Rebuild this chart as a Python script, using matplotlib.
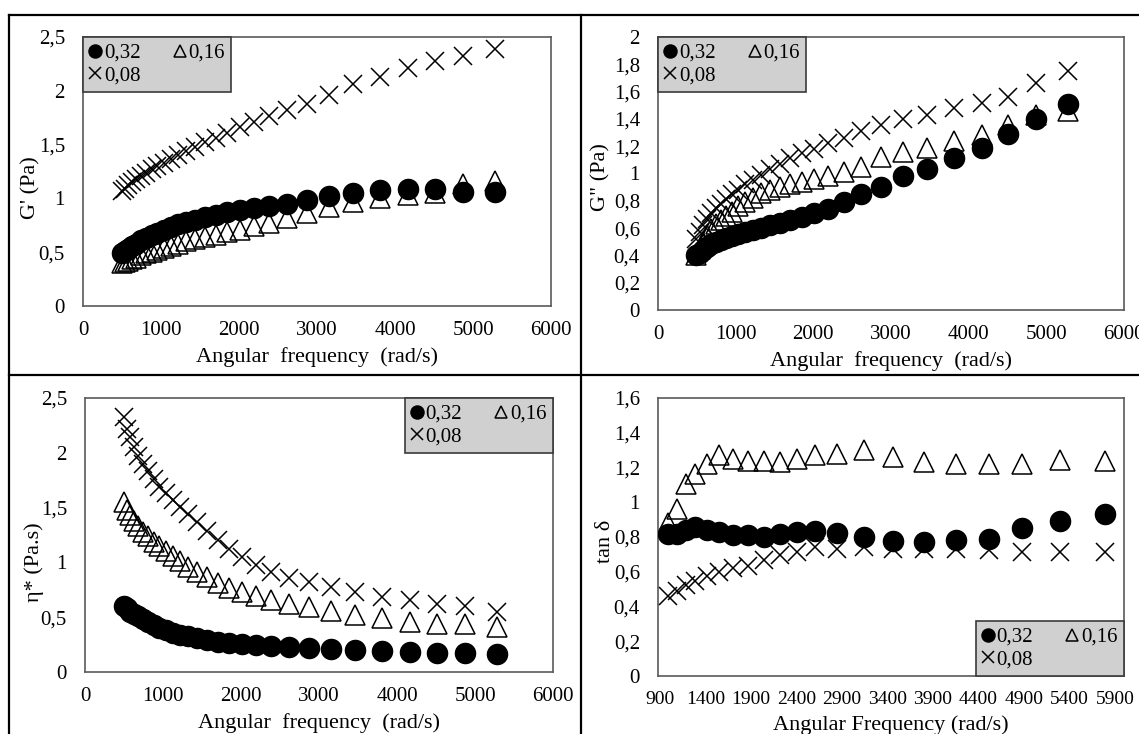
import matplotlib
matplotlib.use("Agg")
import matplotlib.pyplot as plt
from matplotlib.lines import Line2D
from matplotlib.ticker import FuncFormatter, MultipleLocator

plt.rcParams['font.family'] = ['Liberation Serif', 'DejaVu Serif']

# ---------------- data ----------------
freq = [495, 535, 580, 630, 685, 745, 810, 880, 955, 1035, 1125, 1220, 1325, 1440,
        1565, 1700, 1850, 2010, 2190, 2390, 2615, 2870, 3150, 3460, 3810, 4170,
        4510, 4870, 5280]

# G' (Pa)
gp_032 = [0.49, 0.51, 0.53, 0.56, 0.58, 0.61, 0.63, 0.66, 0.68, 0.71, 0.73, 0.76, 0.78, 0.80,
          0.83, 0.85, 0.87, 0.89, 0.91, 0.93, 0.95, 0.985, 1.02, 1.05, 1.08, 1.09, 1.09, 1.06, 1.06]
gp_016 = [0.40, 0.41, 0.42, 0.44, 0.45, 0.47, 0.49, 0.50, 0.52, 0.54, 0.56, 0.58, 0.60, 0.62,
          0.64, 0.66, 0.69, 0.71, 0.74, 0.77, 0.82, 0.86, 0.92, 0.97, 1.00, 1.03, 1.05, 1.13, 1.16]
gp_008 = [1.07, 1.09, 1.12, 1.15, 1.18, 1.21, 1.24, 1.27, 1.30, 1.33, 1.37, 1.40, 1.44, 1.48,
          1.52, 1.56, 1.61, 1.66, 1.71, 1.77, 1.82, 1.88, 1.96, 2.06, 2.13, 2.21, 2.28, 2.32, 2.39]

# G" (Pa)
gpp_032 = [0.40, 0.42, 0.44, 0.46, 0.48, 0.50, 0.51, 0.525, 0.54, 0.56, 0.57, 0.585, 0.60, 0.62,
           0.64, 0.66, 0.68, 0.71, 0.74, 0.79, 0.85, 0.90, 0.98, 1.03, 1.11, 1.19, 1.29, 1.40, 1.51]
gpp_016 = [0.40, 0.45, 0.50, 0.55, 0.59, 0.63, 0.66, 0.69, 0.72, 0.76, 0.79, 0.82, 0.855, 0.88,
           0.90, 0.92, 0.94, 0.96, 0.98, 1.01, 1.05, 1.12, 1.16, 1.19, 1.24, 1.28, 1.355, 1.43, 1.46]
gpp_008 = [0.52, 0.57, 0.62, 0.67, 0.71, 0.75, 0.78, 0.81, 0.85, 0.88, 0.92, 0.95, 0.99, 1.03,
           1.07, 1.11, 1.15, 1.18, 1.22, 1.26, 1.31, 1.355, 1.40, 1.43, 1.48, 1.52, 1.56, 1.665, 1.75]

# eta* (Pa.s)
eta_032 = [0.60, 0.58, 0.55, 0.53, 0.51, 0.48, 0.46, 0.43, 0.40, 0.38, 0.36, 0.34, 0.325, 0.31,
           0.29, 0.275, 0.265, 0.255, 0.245, 0.235, 0.228, 0.219, 0.213, 0.198, 0.192, 0.183,
           0.176, 0.176, 0.167]
eta_016 = [1.55, 1.48, 1.43, 1.38, 1.33, 1.28, 1.24, 1.19, 1.15, 1.10, 1.06, 1.01, 0.96, 0.91,
           0.87, 0.81, 0.77, 0.73, 0.69, 0.66, 0.625, 0.59, 0.56, 0.52, 0.49, 0.46, 0.44, 0.44, 0.41]
eta_008 = [2.33, 2.22, 2.14, 2.05, 1.97, 1.90, 1.83, 1.76, 1.69, 1.63, 1.57, 1.51, 1.44, 1.37,
           1.29, 1.20, 1.12, 1.05, 0.98, 0.91, 0.855, 0.82, 0.775, 0.73, 0.685, 0.655, 0.625, 0.60, 0.55]

# tan delta
freq_tan = [988, 1087, 1187, 1287, 1419, 1546, 1706, 1865, 2044, 2224, 2403, 2603, 2842, 3140,
            3460, 3799, 4158, 4516, 4875, 5294, 5795]
tan_032 = [0.82, 0.82, 0.84, 0.86, 0.84, 0.83, 0.81, 0.81, 0.80, 0.82, 0.828, 0.834, 0.825, 0.80,
           0.777, 0.771, 0.785, 0.79, 0.852, 0.892, 0.934]
tan_016 = [0.88, 0.96, 1.105, 1.16, 1.22, 1.27, 1.25, 1.235, 1.24, 1.23, 1.25, 1.27, 1.28, 1.30,
           1.26, 1.23, 1.22, 1.218, 1.22, 1.246, 1.24]
tan_008 = [0.46, 0.487, 0.525, 0.545, 0.574, 0.597, 0.62, 0.633, 0.67, 0.695, 0.714, 0.742, 0.733,
           0.742, 0.733, 0.733, 0.733, 0.727, 0.714, 0.714, 0.714]

tan_xticks = [900, 1400, 1900, 2400, 2900, 3400, 3900, 4400, 4900, 5400, 5900]
labels = ['0,32', '0,16', '0,08']

# ---------------- figure ----------------
W, H = 1139, 734
fig = plt.figure(figsize=(W / 100, H / 100), dpi=100)
FS = 15


def rect(l, t, r, b):
    return [l / W, 1 - b / H, (r - l) / W, (b - t) / H]


def comma(v, pos):
    s = ('%g' % round(v, 3))
    return s.replace('.', ',')


def panel(r, x, y032, y016, y008, xlim, xticks, ylim, ystep, ylabel, ylab_pos,
          xlabel, legend_loc, legend_anchor, xtick_fs=FS):
    ax = fig.add_axes(r)
    h016, = ax.plot(x, y016, linestyle='none', marker='^', ms=14, mfc='none', mec='black',
                    mew=1.1, zorder=2)
    h008, = ax.plot(x, y008, linestyle='none', marker='x', ms=13, mec='black', mew=1.1, zorder=3)
    h032, = ax.plot(x, y032, linestyle='none', marker='o', ms=14.5, mfc='black', mec='black',
                    zorder=4)
    ax.set_xlim(*xlim)
    ax.set_ylim(*ylim)
    if isinstance(xticks, (list, tuple)):
        ax.set_xticks(xticks)
    else:
        ax.xaxis.set_major_locator(MultipleLocator(xticks))
    ax.yaxis.set_major_locator(MultipleLocator(ystep))
    ax.yaxis.set_major_formatter(FuncFormatter(comma))
    ax.xaxis.set_major_formatter(FuncFormatter(comma))
    ax.tick_params(length=0, labelsize=FS)
    ax.tick_params(axis='x', pad=11, labelsize=xtick_fs)
    ax.tick_params(axis='y', pad=13)
    for s in ax.spines.values():
        s.set_color('#5a5a5a')
        s.set_linewidth(1.2)
    ax.set_ylabel(ylabel, fontsize=FS + 1)
    ax.yaxis.set_label_coords(*ylab_pos)
    ax.set_xlabel(xlabel, fontsize=FS + 1, labelpad=5)
    leg = ax.legend([h032, h008, h016], [labels[0], labels[2], labels[1]], ncol=2,
                    loc=legend_loc, bbox_to_anchor=legend_anchor, borderaxespad=0,
                    frameon=True, fancybox=False, facecolor='#d0d0d0', edgecolor='#3a3a3a',
                    framealpha=1, handlelength=0.55, handletextpad=0.15, columnspacing=1.6,
                    markerscale=0.65, borderpad=0.3, labelspacing=0.15, fontsize=FS)
    leg.get_frame().set_linewidth(1.2)
    leg.set_zorder(10)
    return ax


panel(rect(83, 37, 551, 306), freq, gp_032, gp_016, gp_008, (0, 6000), 1000, (0, 2.5), 0.5,
      "G' (Pa)", (-0.09, 0.44), 'Angular  frequency  (rad/s)', 'upper left', (0, 1))
panel(rect(658, 37, 1124, 310), freq, gpp_032, gpp_016, gpp_008, (0, 6000), 1000, (0, 2.0), 0.2,
      'G" (Pa)', (-0.101, 0.487), 'Angular  frequency  (rad/s)', 'upper left', (0, 1))
panel(rect(85, 398, 553, 672), freq, eta_032, eta_016, eta_008, (0, 6000), 1000, (0, 2.5), 0.5,
      'η* (Pa.s)', (-0.088, 0.40), 'Angular  frequency  (rad/s)', 'upper right', (1, 1))
panel(rect(658, 398, 1124, 676), freq_tan, tan_032, tan_016, tan_008, (880, 6000), tan_xticks,
      (0, 1.6), 0.2, 'tan δ', (-0.092, 0.486), 'Angular Frequency (rad/s)', 'lower right', (1, 0),
      xtick_fs=14)


# outer frame / dividers
def hline(y, x0, x1):
    fig.add_artist(Line2D([x0 / W, x1 / W], [1 - y / H, 1 - y / H], color='black', lw=1.6,
                          transform=fig.transFigure))


def vline(x, y0, y1):
    fig.add_artist(Line2D([x / W, x / W], [1 - y0 / H, 1 - y1 / H], color='black', lw=1.6,
                          transform=fig.transFigure))


hline(15, 9, W)
hline(375, 9, W)
vline(9, 15, H)
vline(581, 15, H)

fig.savefig('out.png', dpi=100, facecolor='white')
